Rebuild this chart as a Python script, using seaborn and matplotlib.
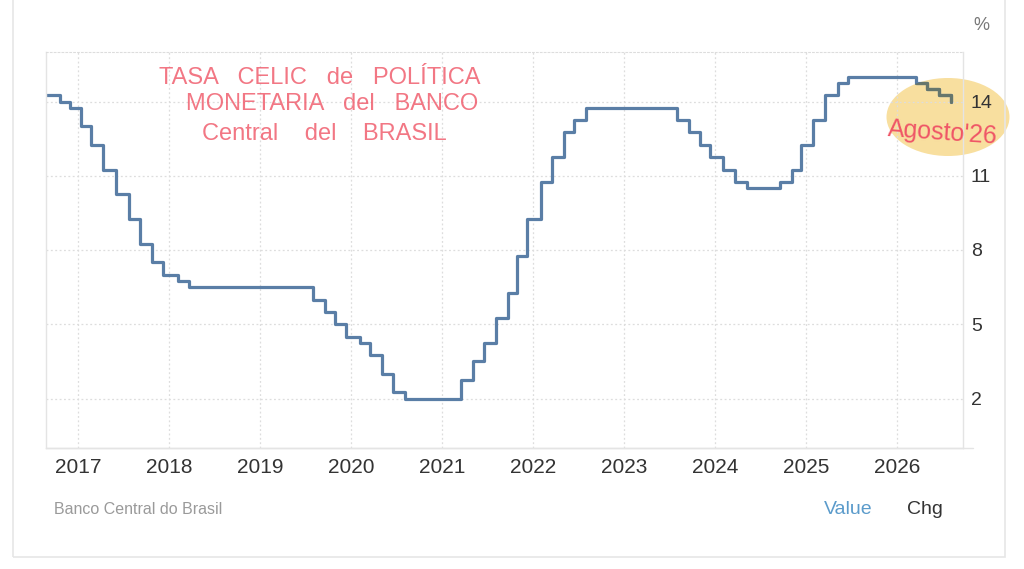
import pandas as pd
import matplotlib
matplotlib.use("Agg")
import matplotlib.pyplot as plt
import matplotlib.dates as mdates
from matplotlib.patches import Ellipse, Rectangle
import seaborn as sns

# Selic target rate, effective dates of each Copom change (%)
dates = [
    "2016-08-01", "2016-10-20", "2016-12-01", "2017-01-12", "2017-02-23",
    "2017-04-13", "2017-06-01", "2017-07-27", "2017-09-07", "2017-10-26",
    "2017-12-07", "2018-02-08", "2018-03-22", "2019-08-01", "2019-09-19",
    "2019-10-31", "2019-12-12", "2020-02-06", "2020-03-19", "2020-05-07",
    "2020-06-18", "2020-08-06", "2021-03-18", "2021-05-06", "2021-06-17",
    "2021-08-05", "2021-09-23", "2021-10-28", "2021-12-09", "2022-02-03",
    "2022-03-17", "2022-05-05", "2022-06-16", "2022-08-04", "2023-08-03",
    "2023-09-21", "2023-11-02", "2023-12-14", "2024-02-01", "2024-03-21",
    "2024-05-09", "2024-09-19", "2024-11-07", "2024-12-12", "2025-01-30",
    "2025-03-20", "2025-05-08", "2025-06-19", "2026-03-19", "2026-04-30",
    "2026-06-18", "2026-08-06",
]
rates = [
    14.25, 14.00, 13.75, 13.00, 12.25,
    11.25, 10.25, 9.25, 8.25, 7.50,
    7.00, 6.75, 6.50, 6.00, 5.50,
    5.00, 4.50, 4.25, 3.75, 3.00,
    2.25, 2.00, 2.75, 3.50, 4.25,
    5.25, 6.25, 7.75, 9.25, 10.75,
    11.75, 12.75, 13.25, 13.75, 13.25,
    12.75, 12.25, 11.75, 11.25, 10.75,
    10.50, 10.75, 11.25, 12.25, 13.25,
    14.25, 14.75, 15.00, 14.75, 14.50,
    14.25, 14.00,
]
y_ticks = [2, 5, 8, 11, 14]

df = pd.DataFrame({"date": pd.to_datetime(dates), "rate": rates})

sns.set_style("white")
plt.rcParams["font.family"] = ["Liberation Sans", "DejaVu Sans"]

W, H = 1024, 569
fig = plt.figure(figsize=(W / 100, H / 100), dpi=100)
fig.patch.set_facecolor("white")


def fx(px):
    return px / W


def fy(py):
    return 1 - py / H


# highlighter mark, drawn beneath the (transparent) axes
hl = Ellipse((fx(948), fy(117)), fx(123), 78 / H, transform=fig.transFigure,
             facecolor="#f8df9f", edgecolor="none", zorder=-1)
fig.add_artist(hl)

ax = fig.add_axes([fx(46), fy(448), fx(962.5 - 46), (448 - 52) / H])
ax.patch.set_alpha(0)

sns.lineplot(data=df, x="date", y="rate", drawstyle="steps-post",
             estimator=None, color="#5a7ea6", linewidth=2.3, ax=ax)
# same series again, tinted where the highlighter covers it
sns.lineplot(data=df, x="date", y="rate", drawstyle="steps-post",
             estimator=None, color="#66766c", linewidth=2.3, ax=ax)
ax.lines[-1].set_clip_path(hl)

ax.set_xlim(pd.Timestamp("2016-08-26"), pd.Timestamp("2026-09-21"))
ax.set_ylim(0, 16)
ax.set_xlabel("")
ax.set_ylabel("")

ax.xaxis.set_major_locator(mdates.YearLocator())
ax.xaxis.set_major_formatter(mdates.DateFormatter("%Y"))
ax.set_yticks(y_ticks)
ax.yaxis.tick_right()
ax.tick_params(axis="x", length=0, pad=7, labelsize=15, labelcolor="#333333")
ax.tick_params(axis="y", length=0, pad=6, labelsize=14, labelcolor="#333333")

ax.grid(True, color="#dddddd", linestyle=(0, (1.5, 2)), linewidth=0.9)
for side in ["left", "right", "bottom"]:
    ax.spines[side].set_color("#e4e4e4")
    ax.spines[side].set_linewidth(1)
ax.spines["top"].set_color("#dddddd")
ax.spines["top"].set_linestyle((0, (1.5, 2)))
ax.plot([0, 1.012], [0, 0], transform=ax.transAxes, clip_on=False,
        color="#e4e4e4", linewidth=1)

# card frame
fig.add_artist(Rectangle((fx(13), fy(556.5)), fx(1005 - 13), 1.2,
                         transform=fig.transFigure, fill=False,
                         edgecolor="#e6e6e6", linewidth=1.2))

fig.text(fx(973), fy(25), "%", fontsize=13, color="#777777", va="center")

# footer
fig.text(fx(54), fy(509), "Banco Central do Brasil", fontsize=11.5,
         color="#9a9a9a", va="center")
fig.text(fx(848), fy(509), "Value", fontsize=14, color="#5b9bcb",
         va="center", ha="center")
fig.text(fx(925), fy(509), "Chg", fontsize=14, color="#333333",
         va="center", ha="center")

# handwritten note
red = "#ef5566"
note_lines = ["TASA   CELIC   de   POLÍTICA", "MONETARIA   del   BANCO",
              "Central    del    BRASIL"]
note_pos = [(320, 78), (332, 104), (324, 134)]
for txt, (px, py) in zip(note_lines, note_pos):
    fig.text(fx(px), fy(py), txt, fontsize=17, color=red, alpha=0.8,
             ha="center", va="center")

fig.text(fx(943), fy(133), "Agosto'26", fontsize=18, color=red,
         rotation=-4, ha="center", va="center", zorder=6)

fig.savefig("out.png", dpi=100)
